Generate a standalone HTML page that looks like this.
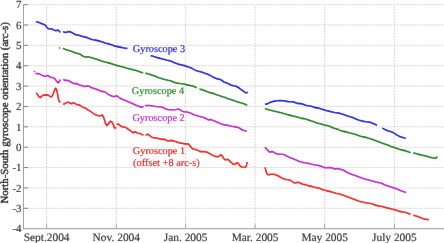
<!DOCTYPE html>
<html><head><meta charset="utf-8"><style>
html,body{margin:0;padding:0;background:#fff;}
body{width:444px;height:243px;overflow:hidden;}
svg{display:block;} text{paint-order:stroke;} svg{font-family:"Liberation Serif",serif;text-rendering:geometricPrecision;}
</style></head><body>
<svg width="444" height="243" viewBox="0 0 444 243">
<defs><filter id="f" x="0" y="0" width="444" height="243" filterUnits="userSpaceOnUse"><feConvolveMatrix order="3" kernelMatrix="0.0016 0.0371 0.0016 0.0371 0.8450 0.0371 0.0016 0.0371 0.0016" edgeMode="duplicate"/></filter></defs>
<g filter="url(#f)"><rect width="444" height="243" fill="#fff"/>
<line x1="27.5" y1="4.60" x2="444" y2="4.60" stroke="#d4d4d4" stroke-width="1" stroke-dasharray="2 1"/>
<line x1="27.5" y1="24.97" x2="444" y2="24.97" stroke="#d4d4d4" stroke-width="1" stroke-dasharray="2 1"/>
<line x1="27.5" y1="45.34" x2="444" y2="45.34" stroke="#d4d4d4" stroke-width="1" stroke-dasharray="2 1"/>
<line x1="27.5" y1="65.71" x2="444" y2="65.71" stroke="#d4d4d4" stroke-width="1" stroke-dasharray="2 1"/>
<line x1="27.5" y1="86.08" x2="444" y2="86.08" stroke="#d4d4d4" stroke-width="1" stroke-dasharray="2 1"/>
<line x1="27.5" y1="106.45" x2="444" y2="106.45" stroke="#d4d4d4" stroke-width="1" stroke-dasharray="2 1"/>
<line x1="27.5" y1="126.82" x2="444" y2="126.82" stroke="#d4d4d4" stroke-width="1" stroke-dasharray="2 1"/>
<line x1="27.5" y1="147.19" x2="444" y2="147.19" stroke="#d4d4d4" stroke-width="1" stroke-dasharray="2 1"/>
<line x1="27.5" y1="167.56" x2="444" y2="167.56" stroke="#d4d4d4" stroke-width="1" stroke-dasharray="2 1"/>
<line x1="27.5" y1="187.93" x2="444" y2="187.93" stroke="#d4d4d4" stroke-width="1" stroke-dasharray="2 1"/>
<line x1="27.5" y1="208.30" x2="444" y2="208.30" stroke="#d4d4d4" stroke-width="1" stroke-dasharray="2 1"/>
<line x1="46.6" y1="6.10" x2="46.6" y2="224.70" stroke="#d4d4d4" stroke-width="1" stroke-dasharray="2 1"/>
<line x1="116.3" y1="6.10" x2="116.3" y2="224.70" stroke="#d4d4d4" stroke-width="1" stroke-dasharray="2 1"/>
<line x1="185.6" y1="6.10" x2="185.6" y2="224.70" stroke="#d4d4d4" stroke-width="1" stroke-dasharray="2 1"/>
<line x1="255.1" y1="6.10" x2="255.1" y2="224.70" stroke="#d4d4d4" stroke-width="1" stroke-dasharray="2 1"/>
<line x1="324.7" y1="6.10" x2="324.7" y2="224.70" stroke="#d4d4d4" stroke-width="1" stroke-dasharray="2 1"/>
<line x1="394.4" y1="6.10" x2="394.4" y2="224.70" stroke="#d4d4d4" stroke-width="1" stroke-dasharray="2 1"/>
<line x1="23.5" y1="4.30" x2="23.5" y2="229.2" stroke="#999999" stroke-width="1"/>
<line x1="23.0" y1="228.7" x2="444" y2="228.7" stroke="#999999" stroke-width="1"/>
<line x1="23.5" y1="4.60" x2="28.0" y2="4.60" stroke="#777" stroke-width="1"/>
<line x1="23.5" y1="24.97" x2="28.0" y2="24.97" stroke="#777" stroke-width="1"/>
<line x1="23.5" y1="45.34" x2="28.0" y2="45.34" stroke="#777" stroke-width="1"/>
<line x1="23.5" y1="65.71" x2="28.0" y2="65.71" stroke="#777" stroke-width="1"/>
<line x1="23.5" y1="86.08" x2="28.0" y2="86.08" stroke="#777" stroke-width="1"/>
<line x1="23.5" y1="106.45" x2="28.0" y2="106.45" stroke="#777" stroke-width="1"/>
<line x1="23.5" y1="126.82" x2="28.0" y2="126.82" stroke="#777" stroke-width="1"/>
<line x1="23.5" y1="147.19" x2="28.0" y2="147.19" stroke="#777" stroke-width="1"/>
<line x1="23.5" y1="167.56" x2="28.0" y2="167.56" stroke="#777" stroke-width="1"/>
<line x1="23.5" y1="187.93" x2="28.0" y2="187.93" stroke="#777" stroke-width="1"/>
<line x1="23.5" y1="208.30" x2="28.0" y2="208.30" stroke="#777" stroke-width="1"/>
<line x1="46.6" y1="228.7" x2="46.6" y2="224.2" stroke="#999" stroke-width="1"/>
<line x1="116.3" y1="228.7" x2="116.3" y2="224.2" stroke="#999" stroke-width="1"/>
<line x1="185.6" y1="228.7" x2="185.6" y2="224.2" stroke="#999" stroke-width="1"/>
<line x1="255.1" y1="228.7" x2="255.1" y2="224.2" stroke="#999" stroke-width="1"/>
<line x1="324.7" y1="228.7" x2="324.7" y2="224.2" stroke="#999" stroke-width="1"/>
<line x1="394.4" y1="228.7" x2="394.4" y2="224.2" stroke="#999" stroke-width="1"/>
<polyline points="36.5,21.7 38.9,22.5 41.4,23.4 43.9,24.4 45.5,25.4 46.8,27.2 48.0,28.6 49.7,28.7 51.7,28.9 53.8,30.0 55.8,30.8 57.9,30.0 59.1,31.2 60.0,32.0" fill="none" stroke="#0000dc" stroke-width="1.6" stroke-linejoin="round" stroke-linecap="round"/>
<polyline points="63.6,31.8 65.3,32.6 67.4,31.9 69.4,31.6 71.9,32.6 74.0,33.8 76.0,34.9 78.9,35.2 81.8,36.3 84.3,36.9 86.7,37.4 89.2,38.4 92.0,39.5 93.3,39.8 96.6,40.4 100.7,41.4 103.2,42.2 105.7,43.2 109.0,43.9 112.3,44.9 114.7,46.2 116.4,46.4 120.0,47.1 122.9,47.8 125.4,48.2 126.8,48.4" fill="none" stroke="#0000dc" stroke-width="1.6" stroke-linejoin="round" stroke-linecap="round"/>
<polyline points="151.2,55.7 153.8,56.6 157.1,57.6 160.4,58.4 163.7,59.3 167.0,60.3 169.4,60.6 171.9,61.5 174.4,62.8 176.0,63.3 178.0,64.1 180.9,64.8 184.2,65.6 187.5,66.7 190.8,67.7 193.3,69.1 195.8,70.4 198.3,71.2 201.6,72.0 204.0,73.0 206.5,73.8 208.9,74.8 211.4,76.1 213.9,77.5 216.4,78.6 218.8,79.1 221.3,80.0 223.8,81.9 226.3,82.8 228.6,83.8 230.9,85.0 233.4,85.8 235.9,86.2 238.4,87.5 240.8,89.4 243.3,91.2 245.4,92.7 247.0,92.7 247.4,92.4" fill="none" stroke="#0000dc" stroke-width="1.6" stroke-linejoin="round" stroke-linecap="round"/>
<polyline points="265.6,104.1 266.9,104.1 269.0,102.9 271.1,102.0 273.5,101.4 276.8,100.8 280.1,100.6 283.4,100.8 286.7,101.4 289.2,101.8 292.5,101.8 294.9,102.4 297.4,103.4 300.7,103.6 303.2,104.2 305.7,105.2 308.1,105.7 311.4,106.3 314.7,107.4 318.0,108.1 321.3,109.0 324.6,110.0 327.9,110.9 331.2,111.7 334.5,112.5 337.8,112.9 341.1,113.7 344.4,114.8 347.5,116.0 349.3,116.6 352.6,117.6 355.9,118.9 359.2,120.3 362.5,121.1 365.8,121.7 368.3,122.0 370.7,122.4 373.2,123.4 376.5,124.9" fill="none" stroke="#0000dc" stroke-width="1.6" stroke-linejoin="round" stroke-linecap="round"/>
<polyline points="382.8,128.4 384.9,129.5 388.5,130.9 392.1,131.9 394.8,133.6 397.5,135.4 400.2,136.7 403.0,137.6 405.1,138.2" fill="none" stroke="#0000dc" stroke-width="1.6" stroke-linejoin="round" stroke-linecap="round"/>
<polyline points="59.5,48.0 59.7,48.0" fill="none" stroke="#007a00" stroke-width="1.6" stroke-linejoin="round" stroke-linecap="round"/>
<polyline points="63.4,48.6 65.4,49.4 67.9,50.2 70.4,51.0 72.8,51.8 75.3,52.9 77.8,53.5 80.3,54.3 82.7,56.0 85.2,57.0 88.5,56.9 90.9,57.6 94.2,58.6 97.5,59.6 100.8,60.7 104.1,61.7 107.4,62.6 110.7,63.4 114.0,64.5 116.5,65.4 119.8,66.2 123.1,67.0 126.4,68.0 129.7,68.9 133.0,69.7 136.3,70.6 139.6,71.7 142.6,72.8" fill="none" stroke="#007a00" stroke-width="1.6" stroke-linejoin="round" stroke-linecap="round"/>
<polyline points="146.0,73.4 148.2,73.8 151.5,74.9 154.8,76.1 158.1,77.4 161.4,78.4 164.7,79.4 168.0,80.3 170.5,80.8 172.9,81.8 176.2,82.9 179.5,83.5 182.8,83.7 186.1,84.6 189.4,85.4 192.7,86.0 196.3,87.4" fill="none" stroke="#007a00" stroke-width="1.6" stroke-linejoin="round" stroke-linecap="round"/>
<polyline points="200.0,89.3 201.8,89.6 204.2,90.4 207.5,91.7 210.8,92.9 213.3,93.4 215.8,94.4 219.1,95.6 222.4,96.7 225.5,97.6 227.3,98.4 230.6,99.5 233.9,100.6 237.2,101.7 240.5,102.8 243.8,103.8 246.7,104.9" fill="none" stroke="#007a00" stroke-width="1.6" stroke-linejoin="round" stroke-linecap="round"/>
<polyline points="265.5,108.7 268.6,109.7 272.7,110.7 276.8,111.7 281.0,112.8 284.5,113.8 287.3,114.6 290.6,115.4 293.9,116.2 297.2,117.1 300.5,118.1 303.8,118.6 307.1,119.5 310.4,120.8 312.5,121.2 314.5,121.9 316.9,123.0 320.2,123.8 323.5,124.7 326.8,125.5 330.1,126.6 333.4,128.0 335.9,128.8 338.4,129.6 340.5,130.6 343.3,131.4 346.6,131.9 349.9,133.0 353.2,133.8 356.5,134.7 359.8,135.9 363.1,136.9 366.4,137.4 368.5,138.2 371.3,139.1 374.6,140.2 377.9,141.4 381.2,142.7 384.5,143.9 387.8,145.1 391.1,146.4 394.4,147.6 397.0,148.5 399.3,149.3 402.6,150.1 405.9,150.9 408.8,151.9 410.0,152.4" fill="none" stroke="#007a00" stroke-width="1.6" stroke-linejoin="round" stroke-linecap="round"/>
<polyline points="413.8,153.0 415.8,153.5 419.1,154.4 422.4,155.2 425.3,155.9 427.9,156.6 430.5,157.4 433.2,158.0 435.2,158.4 436.3,157.8 436.9,157.0" fill="none" stroke="#007a00" stroke-width="1.6" stroke-linejoin="round" stroke-linecap="round"/>
<polyline points="34.4,71.5 34.6,71.6" fill="none" stroke="#c000c8" stroke-width="1.6" stroke-linejoin="round" stroke-linecap="round"/>
<polyline points="36.1,73.6 38.9,73.6 42.5,75.6 44.2,76.2 45.6,76.2 47.7,75.4 49.8,76.7 51.4,77.5 53.5,77.7 55.1,79.1 56.8,81.6 58.0,82.8 59.3,81.6 60.0,80.2" fill="none" stroke="#c000c8" stroke-width="1.6" stroke-linejoin="round" stroke-linecap="round"/>
<polyline points="63.9,79.6 64.6,80.4 67.1,80.4 68.7,80.8 70.4,81.8 72.4,83.0 74.5,83.8 76.1,83.4 78.6,84.4 81.1,85.4 84.4,86.4 86.8,86.1 88.5,85.8 90.5,87.2 92.6,88.1 95.1,88.7 97.6,89.7 100.0,90.8 101.6,91.4 104.1,91.6 105.8,92.4 107.8,94.1 109.9,95.2 112.4,96.3 114.4,96.6 116.1,95.9 117.7,96.3 119.8,98.0 122.3,99.2 124.7,100.2 127.2,101.3 128.0,101.8 130.5,102.8 132.9,103.8 135.4,104.9 137.9,105.9 140.4,106.9 142.0,107.1 143.0,106.7" fill="none" stroke="#c000c8" stroke-width="1.6" stroke-linejoin="round" stroke-linecap="round"/>
<polyline points="145.7,105.6 147.0,105.5 149.4,105.5 151.9,105.7 154.4,106.3 156.9,106.8 158.5,106.8 160.9,106.8 163.4,107.8 165.9,108.9 168.4,109.7 170.8,109.7 174.1,109.7 176.6,109.5 178.3,108.9 179.9,109.7 181.6,110.9 184.0,111.7 186.5,111.9 188.9,112.6 191.4,113.6 193.9,114.7 196.4,115.5 198.8,116.3 201.3,116.7 203.8,117.5 206.3,118.8 208.7,119.9 211.2,119.6 212.5,120.2 214.5,121.0 216.9,122.1 219.4,123.1 221.9,124.3 224.4,124.9 226.8,124.9 229.3,125.7 231.8,126.2 234.3,126.6 236.7,127.1 239.4,128.0 241.5,129.5 243.2,130.3 244.8,130.7 246.3,131.0" fill="none" stroke="#c000c8" stroke-width="1.6" stroke-linejoin="round" stroke-linecap="round"/>
<polyline points="265.3,147.6 266.9,149.4 268.6,151.3 269.8,152.1 271.9,151.6 273.1,151.8 275.2,153.2 277.3,154.1 279.7,154.3 282.2,154.3 284.3,154.7 286.7,156.0 289.2,157.2 292.5,158.6 294.9,159.6 298.2,160.9 301.5,161.9 304.0,162.7 307.3,163.1 310.6,164.0 313.9,164.8 317.2,165.2 320.5,165.9 322.9,167.0 325.4,167.8 327.9,167.6 330.8,167.6 332.8,168.2 334.9,169.1 337.4,168.4 339.8,169.1 342.3,169.7 344.4,170.6 346.4,172.0 348.5,173.1 351.8,174.4 355.1,175.4 358.4,176.7 362.5,178.3 366.6,179.4 370.7,180.5 376.0,181.9 379.3,182.8 381.8,183.3 384.2,184.7 387.5,185.8 390.8,186.9 394.1,188.0 397.4,189.1 399.9,190.3 402.3,191.3 404.8,192.0 405.4,192.4" fill="none" stroke="#c000c8" stroke-width="1.6" stroke-linejoin="round" stroke-linecap="round"/>
<polyline points="36.5,93.2 37.7,94.7 38.9,96.8 40.2,97.6 41.8,96.2 43.5,95.1 46.0,94.9 48.0,95.1 50.1,96.4 51.3,97.0 52.5,95.5 53.8,92.2 55.0,88.9 55.8,88.3 56.7,89.8 57.5,93.9 58.3,98.4 59.1,101.3 60.0,101.9" fill="none" stroke="#f00000" stroke-width="1.6" stroke-linejoin="round" stroke-linecap="round"/>
<polyline points="63.5,104.0 64.1,104.1 65.8,102.9 67.8,102.2 69.5,102.7 71.5,103.7 73.6,102.7 75.7,103.9 77.3,104.7 79.4,104.9 81.4,106.4 83.5,107.6 85.6,108.2 88.0,110.0 90.5,111.4 92.9,113.1 95.4,114.7 97.9,115.6 100.3,115.9 102.3,114.9 103.8,117.8 105.3,122.8 106.8,125.7 108.2,124.3 110.2,121.3 111.7,121.6 113.2,124.3 114.1,127.1 114.9,128.4 115.5,127.9" fill="none" stroke="#f00000" stroke-width="1.6" stroke-linejoin="round" stroke-linecap="round"/>
<polyline points="117.3,124.4 118.2,123.9 119.4,125.0 121.1,126.2 122.7,126.9 124.4,126.9 126.4,127.9 128.5,129.5 130.1,130.4 131.8,132.0 133.4,132.8 135.1,131.8 136.7,132.7 138.4,133.3 140.2,133.5 141.6,134.4 143.1,134.8" fill="none" stroke="#f00000" stroke-width="1.6" stroke-linejoin="round" stroke-linecap="round"/>
<polyline points="146.2,135.0 147.4,134.2 149.1,135.0 150.7,136.4 152.4,137.5 154.8,137.9 157.3,138.3 159.8,138.9 162.3,139.4 164.3,139.1 166.0,140.0 168.0,140.9 169.6,140.8 171.3,140.4 173.8,141.0 176.2,141.8 178.7,142.7 181.2,143.1 183.7,143.7 185.7,143.9 187.8,143.7 189.4,145.1 191.1,147.4 192.7,149.0 194.8,149.3 196.9,150.1 197.6,150.3 200.1,151.6 202.6,151.6 205.1,151.8 207.5,152.4 210.0,153.7 212.5,155.1 215.0,156.4 217.8,156.8 219.5,156.0 220.7,154.7 222.0,155.5 223.4,158.0 224.9,159.8 226.5,159.8 227.8,159.3 229.4,160.7 231.1,162.3 232.7,164.0 234.4,164.4 235.6,164.0 236.8,162.7 238.1,163.1 239.3,164.8 240.5,166.4 242.2,167.0 243.8,167.3 245.1,167.5 246.2,166.4 246.7,164.4 247.1,162.5" fill="none" stroke="#f00000" stroke-width="1.6" stroke-linejoin="round" stroke-linecap="round"/>
<polyline points="265.2,167.7 265.7,169.8 266.5,172.7 267.8,174.7 269.4,174.6 271.1,174.3 273.5,174.3 276.0,174.9 278.5,176.0 281.0,177.6 283.4,178.7 285.9,179.5 288.4,179.8 290.5,180.4 291.6,181.1 293.3,182.3 294.9,183.1 296.6,182.6 298.2,182.3 299.9,182.7 302.0,184.0 304.0,184.4 306.5,185.0 309.0,185.9 311.4,186.4 313.9,187.0 316.4,187.7 318.5,188.1 320.5,188.7 322.9,189.7 326.2,190.6 329.5,191.4 332.8,192.2 336.1,193.2 339.4,194.0 342.7,195.0 346.0,196.3 349.3,197.5 352.6,198.7 355.9,200.0 359.2,201.2 362.5,202.0 365.8,202.7 369.1,203.3 372.4,203.8 374.5,204.9 377.3,205.6 380.6,206.2 383.9,206.9 387.2,207.9 390.5,208.7 393.8,209.5 397.1,210.5 399.6,211.4 402.0,211.9 404.5,212.2 406.9,212.8 409.0,213.8 410.0,214.1" fill="none" stroke="#f00000" stroke-width="1.6" stroke-linejoin="round" stroke-linecap="round"/>
<polyline points="414.0,215.4 415.2,215.7 417.7,216.6 420.1,217.5 422.6,218.5 425.1,219.2 427.6,219.4 428.5,219.7" fill="none" stroke="#f00000" stroke-width="1.6" stroke-linejoin="round" stroke-linecap="round"/>
<text x="132.8" y="51.8" fill="#0000dc" stroke="#0000dc" stroke-width="0.15" font-size="10.3">Gyroscope 3</text>
<text x="131.8" y="93.5" fill="#007a00" stroke="#007a00" stroke-width="0.15" font-size="10.3">Gyroscope 4</text>
<text x="132.4" y="120.9" fill="#c000c8" stroke="#c000c8" stroke-width="0.15" font-size="10.3">Gyroscope 2</text>
<text x="132.8" y="153.5" fill="#f00000" stroke="#f00000" stroke-width="0.15" font-size="10.3">Gyroscope 1</text>
<text x="133.0" y="166.2" fill="#f00000" stroke="#f00000" stroke-width="0.15" font-size="10.4">(offset +8 arc-s)</text>
<text x="21.6" y="7.50" text-anchor="end" font-size="11" fill="#111" stroke="#111" stroke-width="0.12">7</text>
<text x="21.6" y="28.67" text-anchor="end" font-size="11" fill="#111" stroke="#111" stroke-width="0.12">6</text>
<text x="21.6" y="49.04" text-anchor="end" font-size="11" fill="#111" stroke="#111" stroke-width="0.12">5</text>
<text x="21.6" y="69.41" text-anchor="end" font-size="11" fill="#111" stroke="#111" stroke-width="0.12">4</text>
<text x="21.6" y="89.78" text-anchor="end" font-size="11" fill="#111" stroke="#111" stroke-width="0.12">3</text>
<text x="21.6" y="110.15" text-anchor="end" font-size="11" fill="#111" stroke="#111" stroke-width="0.12">2</text>
<text x="21.6" y="130.52" text-anchor="end" font-size="11" fill="#111" stroke="#111" stroke-width="0.12">1</text>
<text x="21.6" y="150.89" text-anchor="end" font-size="11" fill="#111" stroke="#111" stroke-width="0.12">0</text>
<text x="21.6" y="171.26" text-anchor="end" font-size="11" fill="#111" stroke="#111" stroke-width="0.12">-1</text>
<text x="21.6" y="191.63" text-anchor="end" font-size="11" fill="#111" stroke="#111" stroke-width="0.12">-2</text>
<text x="21.6" y="212.00" text-anchor="end" font-size="11" fill="#111" stroke="#111" stroke-width="0.12">-3</text>
<text x="21.6" y="232.37" text-anchor="end" font-size="11" fill="#111" stroke="#111" stroke-width="0.12">-4</text>
<text x="46.6" y="240.8" text-anchor="middle" font-size="11.4" fill="#111" stroke="#111" stroke-width="0.12">Sept.2004</text>
<text x="116.3" y="240.8" text-anchor="middle" font-size="11.4" fill="#111" stroke="#111" stroke-width="0.12">Nov. 2004</text>
<text x="185.6" y="240.8" text-anchor="middle" font-size="11.4" fill="#111" stroke="#111" stroke-width="0.12">Jan. 2005</text>
<text x="255.1" y="240.8" text-anchor="middle" font-size="11.4" fill="#111" stroke="#111" stroke-width="0.12">Mar. 2005</text>
<text x="324.7" y="240.8" text-anchor="middle" font-size="11.4" fill="#111" stroke="#111" stroke-width="0.12">May 2005</text>
<text x="394.4" y="240.8" text-anchor="middle" font-size="11.4" fill="#111" stroke="#111" stroke-width="0.12">July 2005</text>
<text transform="translate(8.2,112.8) rotate(-90)" text-anchor="middle" font-size="10.8" fill="#111" stroke="#111" stroke-width="0.35">North-South gyroscope orientation (arc-s)</text>
</g>
</svg>
</body></html>
